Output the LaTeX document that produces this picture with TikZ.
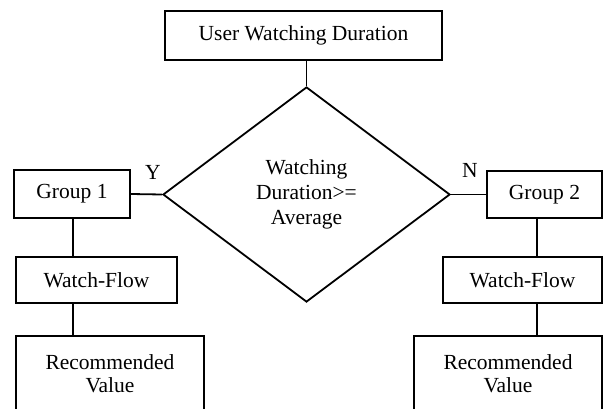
\documentclass[tikz,border=0pt]{standalone}
\usepackage{fontspec}
\setmainfont{Liberation Serif}
\usetikzlibrary{shapes.geometric}
\begin{document}
\begin{tikzpicture}[x=1pt,y=-1pt,
  every node/.style={font=\fontsize{21.5}{23}\selectfont, align=center, inner sep=0pt},
  box/.style={draw, line width=1.8pt, rectangle},
  decision/.style={draw, line width=1.8pt, diamond, font=\fontsize{21.5}{25}\selectfont},
  link/.style={line width=1.8pt}]
\useasboundingbox (0,0) rectangle (603,408);
\clip (0,0) rectangle (603,408);

% top box and decision
\node[box, minimum width=277pt, minimum height=49pt] (top) at (303.5,35.5) {User Watching Duration};
\node[decision, minimum width=287pt, minimum height=215pt] (dec) at (306.5,194.5) {Watching\\Duration>=\\Average};

% left branch
\node[box, minimum width=116pt, minimum height=48pt] (g1) at (72,194) {Group 1};
\node[box, minimum width=161pt, minimum height=46pt] (wf1) at (96.5,280) {Watch-Flow};
\node[box, minimum width=188pt, minimum height=76pt] (rec1) at (110,374) {Recommended\\Value};

% right branch
\node[box, minimum width=115pt, minimum height=47pt] (g2) at (544.5,194.5) {Group 2};
\node[box, minimum width=159pt, minimum height=46pt] (wf2) at (522.5,280) {Watch-Flow};
\node[box, minimum width=188pt, minimum height=76pt] (rec2) at (508,374) {Recommended\\Value};

% branch labels
\node (ylab) at (153,172) {Y};
\node (nlab) at (470,170) {N};

% stem positions
\coordinate (ls) at (73,0);
\coordinate (rs) at (537,0);

% connectors
\draw[link] (dec.north |- top.south) -- (dec.north);
\draw[link] (dec.west) -- (g1.east);
\draw[link] (dec.east) -- (g2.west);
\draw[link] (g1.south -| ls) -- (wf1.north -| ls);
\draw[link] (wf1.south -| ls) -- (rec1.north -| ls);
\draw[link] (g2.south -| rs) -- (wf2.north -| rs);
\draw[link] (wf2.south -| rs) -- (rec2.north -| rs);
\end{tikzpicture}
\end{document}
